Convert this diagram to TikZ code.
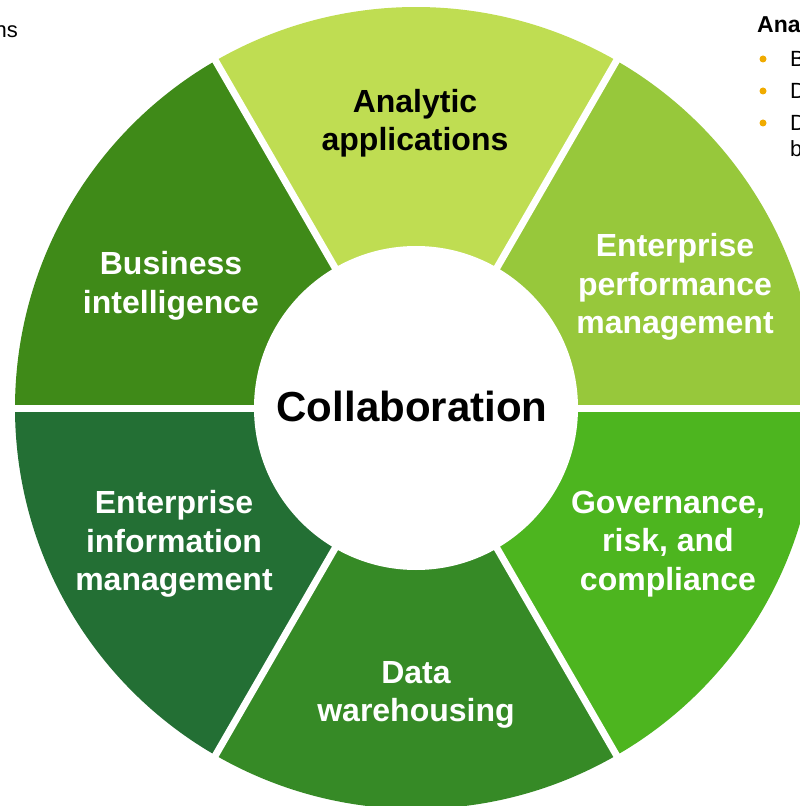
\documentclass[tikz,border=0pt]{standalone}
\usepackage{fontspec}
\setmainfont{Liberation Sans}
\definecolor{analytic}{RGB}{191,221,82}
\definecolor{epm}{RGB}{151,200,59}
\definecolor{grc}{RGB}{77,181,31}
\definecolor{dwh}{RGB}{54,138,38}
\definecolor{eim}{RGB}{35,111,52}
\definecolor{bi}{RGB}{63,138,24}
\definecolor{bullet}{RGB}{240,171,0}
\begin{document}
\begin{tikzpicture}[x=1pt,y=1pt,
    seglabel/.style={font=\bfseries\fontsize{32}{38.5}\selectfont, text=white, align=center},
    sidetext/.style={font=\fontsize{22}{26}\selectfont, inner sep=0pt, anchor=base west}]
    \useasboundingbox (-416,-398) rectangle (384,408);
    \clip (-416,-398) rectangle (384,408);
    % ring segments
    \fill[epm] (0,0) -- (0:401) arc[start angle=0, end angle=60, radius=401] -- cycle;
    \fill[analytic] (0,0) -- (60:401) arc[start angle=60, end angle=120, radius=401] -- cycle;
    \fill[bi] (0,0) -- (120:401) arc[start angle=120, end angle=180, radius=401] -- cycle;
    \fill[eim] (0,0) -- (180:401) arc[start angle=180, end angle=240, radius=401] -- cycle;
    \fill[dwh] (0,0) -- (240:401) arc[start angle=240, end angle=300, radius=401] -- cycle;
    \fill[grc] (0,0) -- (300:401) arc[start angle=300, end angle=360, radius=401] -- cycle;
    % gaps
    \draw[white, line width=7pt] (0:420) -- (180:420);
    \draw[white, line width=7pt] (60:420) -- (240:420);
    \draw[white, line width=7pt] (120:420) -- (300:420);
    \fill[white] (0,0) circle[radius=162];
    % labels
    \node (collab) at (-4,2) {\bfseries\fontsize{42}{48}\selectfont Collaboration};
    \node[seglabel, text=black] (analytic) at (-1,285) {Analytic\\applications};
    \node[seglabel] (epm) at (259,121) {Enterprise\\performance\\management};
    \node[seglabel] (grc) at (252,-136) {Governance,\\risk, and\\compliance};
    \node[seglabel] (dwh) at (0,-287) {Data\\warehousing};
    \node[seglabel] (eim) at (-242,-136) {Enterprise\\information\\management};
    \node[seglabel] (bi) at (-245,122) {Business\\intelligence};
    % cut-off side texts
    \node[sidetext, anchor=base east] (left) at (-398,370) {ns};
    \node[sidetext, font=\bfseries\fontsize{23}{27}\selectfont] (head) at (341,375) {Ana};
    \node[sidetext] (itema) at (374,341) {B};
    \node[sidetext] (itemb) at (374,309) {D};
    \node[sidetext] (itemc) at (374,277) {D};
    \node[sidetext] (itemd) at (374,251) {b};
    \fill[bullet] (347,349) circle[radius=3.5];
    \fill[bullet] (347,317) circle[radius=3.5];
    \fill[bullet] (347,285) circle[radius=3.5];
\end{tikzpicture}
\end{document}
